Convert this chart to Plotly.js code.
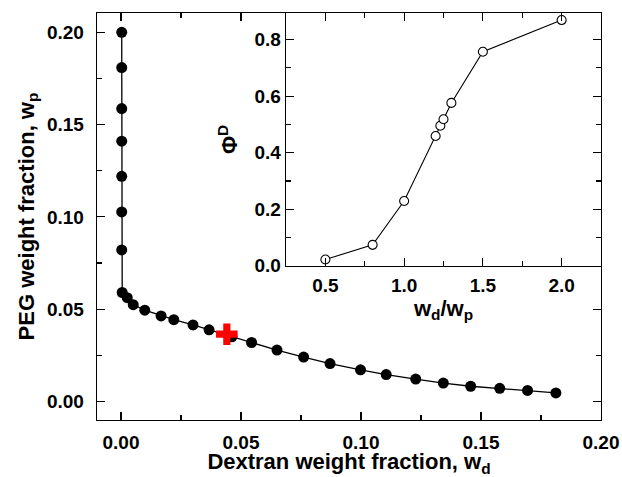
<!DOCTYPE html>
<html>
<head>
<meta charset="utf-8">
<script src="https://cdn.plot.ly/plotly-3.0.1.min.js"></script>
<style>html,body{margin:0;padding:0;background:#fff;}#chart{width:622px;height:477px;}</style>
</head>
<body>
<div id="chart"></div>
<script>
// Main binodal data: dextran weight fraction (w_d) vs PEG weight fraction (w_p)
const dextranFrac = [0.0003, 0.0003, 0.0003, 0.0003, 0.0003, 0.0003, 0.0003,
  0.0005, 0.0026, 0.0051, 0.0099, 0.0167, 0.0220, 0.0300, 0.0367, 0.0462, 0.0544,
  0.0650, 0.0761, 0.0871, 0.0998, 0.1105, 0.1228, 0.1343, 0.1457, 0.1578, 0.1694, 0.1812];
const pegFrac = [0.2000, 0.1809, 0.1587, 0.1410, 0.1220, 0.1027, 0.0821,
  0.0590, 0.0562, 0.0524, 0.0494, 0.0463, 0.0443, 0.0414, 0.0388, 0.0350, 0.0319,
  0.0278, 0.0240, 0.0205, 0.0171, 0.0145, 0.0121, 0.0099, 0.0082, 0.0071, 0.0059, 0.0046];
// Critical point (red cross)
const critX = [0.0441];
const critY = [0.0364];
// Inset: ratio w_d/w_p vs Phi^D
const ratio = [0.5, 0.8, 1.0, 1.2, 1.23, 1.25, 1.3, 1.5, 2.0];
const phiD = [0.022, 0.074, 0.229, 0.459, 0.495, 0.518, 0.576, 0.757, 0.869];
const phiRef = 0.5;

const tickFont = {family: 'Liberation Sans, Arial, sans-serif', size: 19, color: '#000', weight: 'bold'};
const titleFont = {family: 'Liberation Sans, Arial, sans-serif', size: 22, color: '#000', weight: 'bold'};

const traces = [
  {x: dextranFrac, y: pegFrac, xaxis: 'x', yaxis: 'y', mode: 'lines+markers',
   line: {color: '#000', width: 1.3}, marker: {color: '#000', size: 11}, hoverinfo: 'skip'},
  {x: critX, y: critY, xaxis: 'x', yaxis: 'y', mode: 'markers',
   marker: {symbol: 'cross', color: '#ff0000', size: 18, line: {width: 0}}, hoverinfo: 'skip'},
  {x: ratio, y: phiD, xaxis: 'x2', yaxis: 'y2', mode: 'lines+markers',
   line: {color: '#000', width: 1.1}, marker: {symbol: 'circle', color: '#fff', size: 9, line: {color: '#000', width: 1.1}},
   hoverinfo: 'skip'}
];

const axCommon = {showline: true, linecolor: '#000', linewidth: 1.3, mirror: 'ticks', ticks: 'inside',
  ticklen: 8, tickwidth: 1.2, tickcolor: '#000', showgrid: false, zeroline: false, tickfont: tickFont,
  automargin: false};

const layout = {
  width: 622, height: 477,
  margin: {l: 97, r: 21, t: 13, b: 57},
  paper_bgcolor: '#fff', plot_bgcolor: '#fff',
  showlegend: false,
  xaxis: Object.assign({}, axCommon, {
    domain: [0, 1], range: [-0.01, 0.20], dtick: 0.05, tick0: 0, tickformat: '.2f',
    minor: {ticks: 'inside', ticklen: 5, dtick: 0.025, tick0: 0, tickcolor: '#000', tickwidth: 1.2},
    ticklabelstandoff: 5,
    title: {text: 'Dextran weight fraction, w<sub>d</sub>', font: titleFont, standoff: 0}
  }),
  yaxis: Object.assign({}, axCommon, {
    domain: [0, 1], range: [-0.0101, 0.2105], dtick: 0.05, tick0: 0, tickformat: '.2f',
    minor: {ticks: 'inside', ticklen: 5, dtick: 0.025, tick0: 0, tickcolor: '#000', tickwidth: 1.2},
    ticklabelstandoff: 8,
    title: {text: 'PEG weight fraction, w<sub>p</sub>', font: titleFont, standoff: 6}
  }),
  xaxis2: Object.assign({}, axCommon, {
    domain: [0.375, 1], anchor: 'y2', range: [0.25, 2.25], dtick: 0.5, tick0: 0, tickformat: '.1f',
    minor: {ticks: 'inside', ticklen: 5, dtick: 0.25, tick0: 0, tickcolor: '#000', tickwidth: 1.2},
    ticklabelstandoff: 2,
    title: {text: 'w<sub>d</sub>/w<sub>p</sub>', font: titleFont, standoff: 0}
  }),
  yaxis2: Object.assign({}, axCommon, {
    domain: [0.379, 1], anchor: 'x2', range: [0, 0.894], dtick: 0.2, tick0: 0, tickformat: '.1f',
    minor: {ticks: 'inside', ticklen: 5, dtick: 0.1, tick0: 0, tickcolor: '#000', tickwidth: 1.2},
    ticklabelstandoff: 0,
    title: {text: 'Φ<sup>D</sup>', font: titleFont, standoff: 10}
  }),
  shapes: [
    {type: 'line', xref: 'x2 domain', yref: 'y2', x0: 0, x1: 1, y0: phiRef, y1: phiRef,
     line: {color: '#000', width: 1.1, dash: '5px,4px'}, layer: 'below'}
  ]
};

Plotly.newPlot('chart', traces, layout, {staticPlot: true, displayModeBar: false});
</script>
</body>
</html>
